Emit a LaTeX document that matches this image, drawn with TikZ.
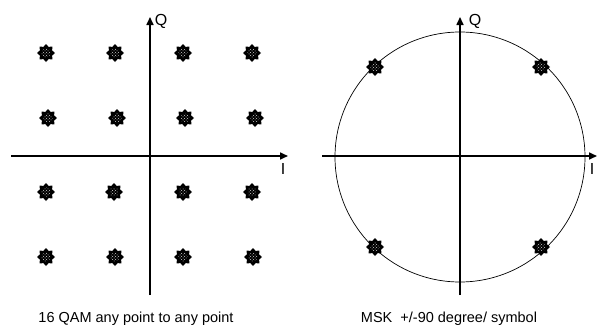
\documentclass[tikz,border=0pt]{standalone}
\usepackage{fontspec}
\setmainfont{Liberation Sans}
\usetikzlibrary{shapes.geometric,arrows.meta,patterns}
\begin{document}
\begin{tikzpicture}[x=1pt,y=-1pt,
  axis/.style={line width=1.6pt,-{Triangle[length=8pt,width=7pt]}},
  ptstar/.style={star,star points=8,star point ratio=1.35,minimum size=18pt,inner sep=0pt,fill=black,
    path picture={\fill[pattern=crosshatch dots,pattern color=gray!40] (path picture bounding box.center) circle (4.6pt);}},
  axlabel/.style={font=\fontsize{16}{16}\selectfont,inner sep=0pt},
  caption/.style={font=\fontsize{14.5}{14.5}\selectfont,inner sep=0pt,anchor=base}]
\useasboundingbox (0,0) rectangle (597,324);
% left panel axes
\coordinate (lxs) at (11,156);
\coordinate (lxe) at (288,156);
\coordinate (lys) at (150,295);
\coordinate (lye) at (150,17);
\draw[axis] (lxs) -- (lxe);
\draw[axis] (lys) -- (lye);
\node[axlabel] (lQ) at (161,21) {Q};
\node[axlabel] (lI) at (283,169) {I};
% 16 QAM points
\node[ptstar] (p11) at (46,53) {};
\node[ptstar] (p12) at (115,53) {};
\node[ptstar] (p13) at (183,53) {};
\node[ptstar] (p14) at (252,53) {};
\node[ptstar] (p21) at (48,118) {};
\node[ptstar] (p22) at (117,118) {};
\node[ptstar] (p23) at (185,118) {};
\node[ptstar] (p24) at (255,118) {};
\node[ptstar] (p31) at (46,192) {};
\node[ptstar] (p32) at (114,192) {};
\node[ptstar] (p33) at (183,192) {};
\node[ptstar] (p34) at (252,192) {};
\node[ptstar] (p41) at (46,257) {};
\node[ptstar] (p42) at (115,257) {};
\node[ptstar] (p43) at (183,257) {};
\node[ptstar] (p44) at (253,257) {};
\node[caption] (lcap) at (136,322) {16 QAM any point to any point};
% right panel
\node[draw,circle,line width=0.7pt,minimum size=250pt,inner sep=0pt] (circ) at (460,157) {};
\coordinate (rxs) at (322,156);
\coordinate (rxe) at (597,156);
\coordinate (rys) at (460,295);
\coordinate (rye) at (460,17);
\draw[axis] (rxs) -- (rxe);
\draw[axis] (rys) -- (rye);
\node[axlabel] (rQ) at (475,21) {Q};
\node[axlabel] (rI) at (592,169) {I};
\node[ptstar] (m1) at (375,67) {};
\node[ptstar] (m2) at (541,67) {};
\node[ptstar] (m3) at (375,247) {};
\node[ptstar] (m4) at (541,247) {};
\node[caption] (rcap) at (449,322) {MSK\ \ +/-90 degree/ symbol};
\end{tikzpicture}
\end{document}
